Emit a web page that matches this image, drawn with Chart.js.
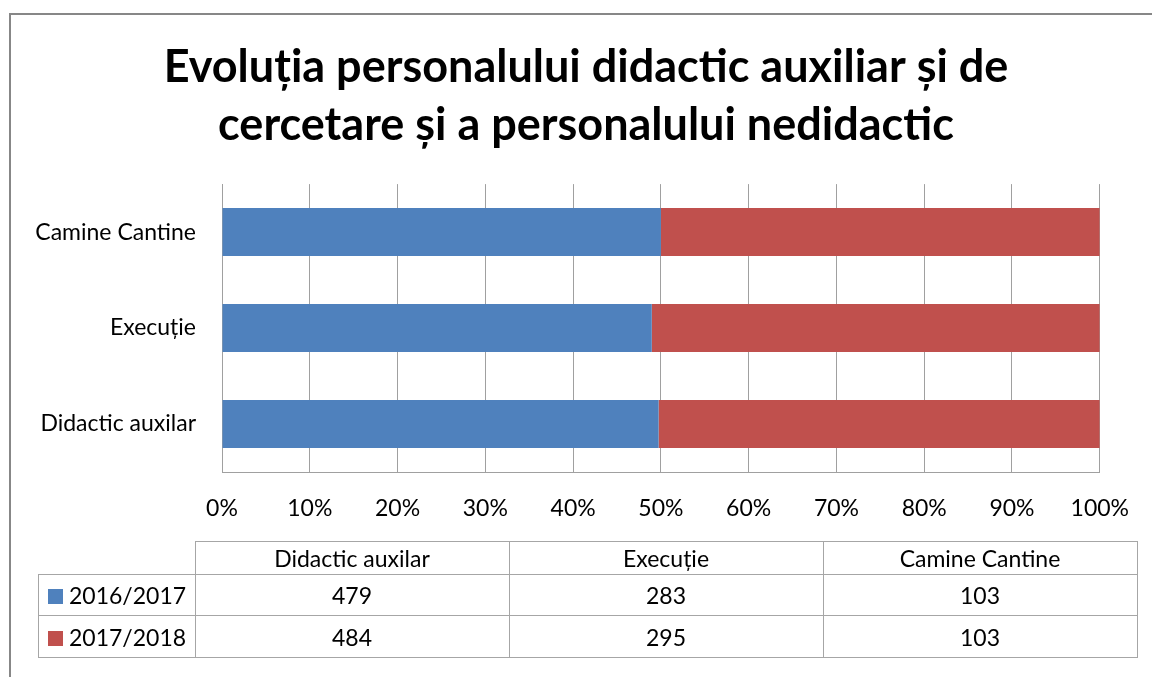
<!DOCTYPE html>
<html>
<head>
<meta charset="utf-8">
<script src="https://cdn.jsdelivr.net/npm/chart.js@4"></script>
<style>
  html, body { margin: 0; padding: 0; width: 1152px; height: 677px; overflow: hidden; background: #fff; }
  #frame { position: absolute; left: 9px; top: 13px; width: 1200px; height: 700px; border: 2px solid #878787; box-sizing: border-box; }
  #c { position: absolute; left: 0; top: 0; }
  #tbl { position: absolute; left: 38px; top: 541px; border-collapse: collapse; font-family: Lato, "Open Sans", sans-serif; font-size: 23px; color: #000; }
  #tbl td { border: 1px solid #a6a6a6; text-align: center; padding: 0; }
  #tbl td.empty { border: none; border-bottom: 1px solid #a6a6a6; }
  #tbl td.lab { text-align: left; padding-left: 9px; white-space: nowrap; }
  #tbl .sw { display: inline-block; width: 15px; height: 15px; margin-right: 6px; vertical-align: 0px; }
</style>
</head>
<body>
<div id="frame"></div>
<canvas id="c" width="1152" height="677"></canvas>
<table id="tbl"></table>
<script>
const titleLines = ["Evoluția personalului didactic auxiliar și de", "cercetare și a personalului nedidactic"];
const categories = ["Didactic auxilar", "Execuție", "Camine Cantine"];
const seriesNames = ["2016/2017", "2017/2018"];
const values2016 = [479, 283, 103];
const values2017 = [484, 295, 103];
const xTicks = [0, 10, 20, 30, 40, 50, 60, 70, 80, 90, 100];
const colors = ["#4F81BD", "#C0504D"];

const allSeries = [values2016, values2017];
const totals = categories.map((_, i) => allSeries.reduce((s, a) => s + a[i], 0));
const pct = allSeries.map(a => a.map((v, i) => v / totals[i] * 100));

const font = "Lato, 'Open Sans', sans-serif";

new Chart(document.getElementById('c'), {
  type: 'bar',
  data: {
    labels: categories,
    datasets: seriesNames.map((n, k) => ({
      label: n,
      data: pct[k],
      backgroundColor: colors[k],
      borderWidth: 0,
      categoryPercentage: 0.5,
      barPercentage: 1.0
    }))
  },
  options: {
    indexAxis: 'y',
    responsive: false,
    animation: false,
    layout: { padding: { left: 20, right: 0, top: 0, bottom: 0 } },
    plugins: {
      legend: { display: false },
      tooltip: { enabled: false },
      title: {
        display: true,
        text: titleLines,
        color: '#000',
        font: { family: font, size: 45, weight: 'bold', lineHeight: 1.29 },
        padding: { top: 38, bottom: 30 }
      }
    },
    scales: {
      x: {
        stacked: true,
        min: 0, max: 100,
        afterBuildTicks: s => { s.ticks = xTicks.map(v => ({ value: v })); },
        afterFit: s => { s.height = 205; },
        ticks: { color: '#000', font: { family: font, size: 23 }, padding: 23, callback: v => v + '%', maxRotation: 0 },
        grid: { color: '#a0a0a0', lineWidth: 1, drawTicks: false },
        border: { display: true, color: '#a0a0a0', width: 1 }
      },
      y: {
        stacked: true,
        reverse: true,
        afterFit: s => { s.width = 202; },
        ticks: { color: '#000', font: { family: font, size: 23 }, padding: 26 },
        grid: { display: false, drawTicks: false },
        border: { display: true, color: '#a0a0a0', width: 1 }
      },
      yRight: {
        type: 'linear',
        axis: 'y',
        position: 'right',
        display: true,
        afterFit: s => { s.width = 46; },
        ticks: { display: false },
        grid: { display: false, drawTicks: false },
        border: { display: false }
      }
    }
  }
});

// data table built from arrays
const tbl = document.getElementById('tbl');
const colW = [156, 313, 313, 313];
const rowH = [33, 41, 42];
let hr = '<tr style="height:' + rowH[0] + 'px"><td class="empty" style="width:' + colW[0] + 'px"></td>';
categories.forEach((c, i) => { hr += '<td style="width:' + colW[i + 1] + 'px">' + c + '</td>'; });
hr += '</tr>';
seriesNames.forEach((n, k) => {
  hr += '<tr style="height:' + rowH[k + 1] + 'px"><td class="lab"><span class="sw" style="background:' + colors[k] + '"></span>' + n + '</td>';
  allSeries[k].forEach(v => { hr += '<td>' + v + '</td>'; });
  hr += '</tr>';
});
tbl.innerHTML = hr;
</script>
</body>
</html>
